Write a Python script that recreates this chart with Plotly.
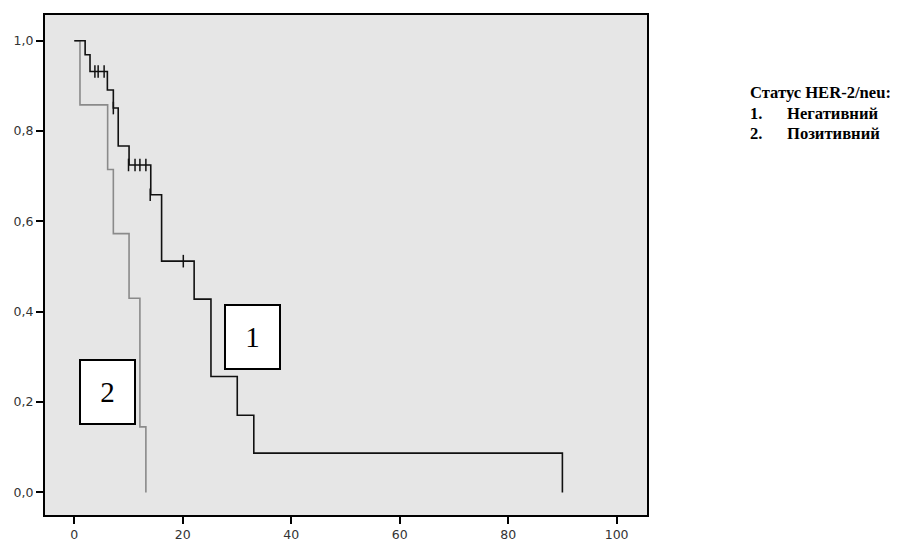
import plotly.graph_objects as go

# Curve 1 (HER-2/neu negative) - step times and survival
t1 = [0, 2.0, 2.9, 6.1, 7.2, 8.1, 10.1, 14.1, 16.1, 22.1, 25.2, 30.05, 33.1, 90.0]
s1 = [1.0, 0.969, 0.932, 0.891, 0.851, 0.767, 0.725, 0.659, 0.512, 0.428, 0.2565, 0.171, 0.087, 0.0]
c1_t = [3.8, 4.4, 5.5, 7.2, 10.0, 11.2, 12.1, 13.2, 14.0, 20.1]
c1_s = [0.932, 0.932, 0.932, 0.851, 0.725, 0.725, 0.725, 0.725, 0.659, 0.512]

# Curve 2 (HER-2/neu positive)
t2 = [0, 1.05, 6.15, 7.2, 10.1, 12.1, 13.2]
s2 = [1.0, 0.858, 0.715, 0.573, 0.43, 0.145, 0.0]

x_ticks = [0, 20, 40, 60, 80, 100]
y_ticks = [0.0, 0.2, 0.4, 0.6, 0.8, 1.0]
y_tick_text = ["0,0", "0,2", "0,4", "0,6", "0,8", "1,0"]

legend_title = "Статус HER-2/neu:"
legend_items = [("1.", "Негативний"), ("2.", "Позитивний")]


def steps(t, s):
    xs, ys = [t[0]], [s[0]]
    for i in range(1, len(t)):
        xs += [t[i], t[i]]
        ys += [s[i - 1], s[i]]
    return xs, ys


# page has an 8px body margin; figure is sized/placed to compensate
W, H = 890, 539
L, T, PW, PH = 37, 5, 602, 507

fig = go.Figure()
x2, y2 = steps(t2, s2)
fig.add_trace(go.Scatter(x=x2, y=y2, mode="lines", line=dict(color="#8a8a8a", width=1.6),
                         showlegend=False, hoverinfo="skip"))
x1, y1 = steps(t1, s1)
fig.add_trace(go.Scatter(x=x1, y=y1, mode="lines", line=dict(color="#111111", width=1.6),
                         showlegend=False, hoverinfo="skip"))
fig.add_trace(go.Scatter(x=c1_t, y=c1_s, mode="markers",
                         marker=dict(symbol="line-ns", size=9, line=dict(color="#111111", width=1.5)),
                         showlegend=False, hoverinfo="skip"))

ann = []
# Curve number boxes
for txt, xx, yy in [("1", 32.8, 0.3435), ("2", 6.06, 0.222)]:
    ann.append(dict(x=xx, y=yy, xref="x", yref="y", text=txt, showarrow=False,
                    font=dict(family="Liberation Serif", size=29, color="black"),
                    bgcolor="white", bordercolor="black", borderwidth=2, borderpad=0,
                    width=53, height=62, align="center", valign="middle"))

lx0 = (740 - L) / PW
lx1 = (777 - L) / PW
rows_y = [(T + PH - (92 - 8)) / PH, (T + PH - (113 - 8)) / PH, (T + PH - (133 - 8)) / PH]
lfont = dict(family="Liberation Serif", size=16.6, color="black")
ann.append(dict(x=lx0, y=rows_y[0], xref="paper", yref="paper", xanchor="left", yanchor="middle",
                text="<b>" + legend_title + "</b>", showarrow=False, font=lfont))
for i, (num, name) in enumerate(legend_items):
    ann.append(dict(x=lx0, y=rows_y[i + 1], xref="paper", yref="paper", xanchor="left", yanchor="middle",
                    text="<b>" + num + "</b>", showarrow=False, font=lfont))
    ann.append(dict(x=lx1, y=rows_y[i + 1], xref="paper", yref="paper", xanchor="left", yanchor="middle",
                    text="<b>" + name + "</b>", showarrow=False, font=lfont))

tfont = dict(family="DejaVu Sans", size=12.5, color="#333333")
fig.update_layout(
    width=W, height=H,
    margin=dict(l=L, r=W - L - PW, t=T, b=H - T - PH),
    paper_bgcolor="white", plot_bgcolor="#e6e6e6",
    annotations=ann,
    xaxis=dict(range=[-5.4, 105.6], tickvals=x_ticks, ticks="outside", ticklen=7, tickwidth=2,
               tickcolor="black", showline=True, linecolor="black", linewidth=2, mirror=True,
               showgrid=False, zeroline=False, tickfont=tfont),
    yaxis=dict(range=[-0.05, 1.057], tickvals=y_ticks, ticktext=y_tick_text, ticks="outside",
               ticklen=7, tickwidth=2, tickcolor="black", showline=True, linecolor="black",
               linewidth=2, mirror=True, showgrid=False, zeroline=False, tickfont=tfont),
)

fig.write_html("out.html")
